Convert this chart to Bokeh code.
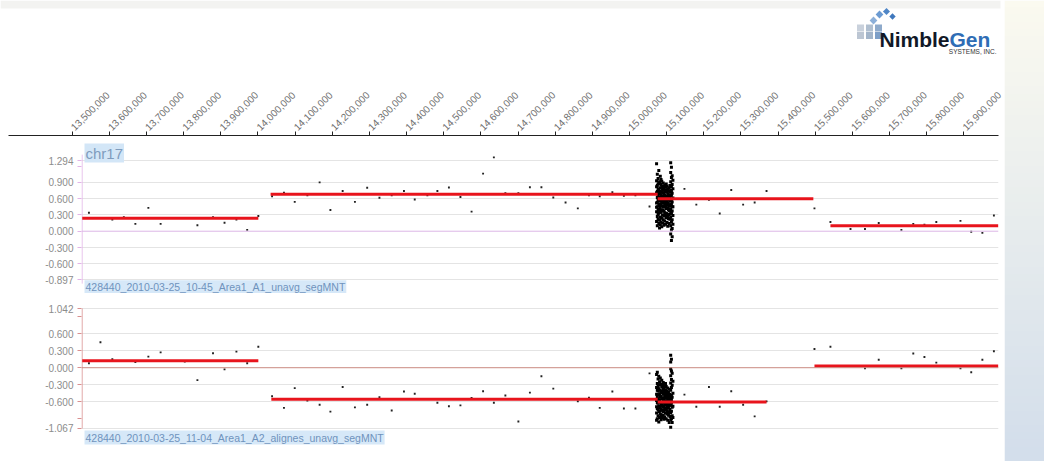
import numpy as np
from bokeh.plotting import figure
from bokeh.layouts import column, row
from bokeh.models import Range1d, FixedTicker, NumeralTickFormatter, Label, Span
from bokeh.embed import file_html
from bokeh.resources import INLINE

# ---------------- data ----------------
x_ticks = list(range(13_500_000, 16_000_001, 100_000))

probe_kb_a1 = [13545, 13608, 13639, 13670, 13705, 13738, 13837, 13879, 13910, 13942, 13971, 14001,
               14038, 14070, 14099, 14133, 14166, 14195, 14228, 14261, 14294, 14327, 14360, 14393,
               14422, 14456, 14483, 14514, 14545, 14575, 14606, 14635, 14666, 14701, 14732, 14763,
               14795, 14828, 14861, 14891, 14920, 14954, 14985, 15016, 15054, 15148, 15180, 15214,
               15243, 15274, 15306, 15337, 15369, 15498, 15541, 15595, 15634, 15671, 15732, 15764,
               15794, 15826, 15891, 15920, 15950, 15981]
ratio_a1 = [0.34, 0.215, 0.26, 0.135, 0.43, 0.135, 0.11, 0.26, 0.155, 0.215, 0.025, 0.28,
            0.645, 0.71, 0.54, 0.66, 0.90, 0.39, 0.74, 0.54, 0.80, 0.615, 0.66, 0.74,
            0.585, 0.66, 0.74, 0.805, 0.63, 0.36, 1.06, 1.36, 0.70, 0.70, 0.81, 0.81,
            0.62, 0.53, 0.42, 0.66, 0.645, 0.72, 0.65, 0.66, 0.455, 0.78, 0.49, 0.58,
            0.325, 0.76, 0.49, 0.53, 0.74, 0.42, 0.17, 0.04, 0.04, 0.15, 0.025, 0.135,
            0.12, 0.17, 0.19, -0.01, -0.03, 0.29]

probe_kb_a2 = [13545, 13576, 13608, 13639, 13670, 13705, 13738, 13803, 13837, 13879, 13910, 13942,
               13971, 14001, 14038, 14070, 14099, 14133, 14166, 14195, 14228, 14261, 14294, 14327,
               14360, 14393, 14422, 14483, 14514, 14545, 14575, 14606, 14635, 14666, 14701, 14732,
               14763, 14795, 14861, 14891, 14920, 14954, 14985, 15016, 15054, 15148, 15180, 15214,
               15243, 15274, 15306, 15337, 15369, 15498, 15541, 15634, 15671, 15732, 15764, 15794,
               15826, 15891, 15920, 15950, 15981]
ratio_a2 = [0.08, 0.45, 0.15, 0.12, 0.10, 0.195, 0.27, 0.11, -0.22, 0.255, -0.03, 0.285,
            0.08, 0.37, -0.505, -0.71, -0.36, -0.58, -0.655, -0.775, -0.34, -0.70, -0.655, -0.52,
            -0.755, -0.42, -0.46, -0.62, -0.68, -0.665, -0.535, -0.415, -0.62, -0.49, -0.95, -0.44,
            -0.15, -0.37, -0.595, -0.53, -0.71, -0.42, -0.72, -0.72, -0.10, -0.475, -0.69, -0.34,
            -0.69, -0.415, -0.655, -0.86, -0.595, 0.33, 0.37, -0.01, 0.14, -0.01, 0.25, 0.19,
            0.09, -0.01, -0.08, 0.14, 0.29]

# dense probe cluster (positions in kb, several probes per position)
cluster_kb = [15073, 15075, 15077, 15079, 15081, 15083, 15085, 15087, 15089, 15091, 15093, 15095,
              15097, 15099, 15101, 15103, 15105, 15107, 15109, 15111, 15113, 15115, 15117]
cluster_a1 = [
    [1.24, 0.93, 0.71, 0.52, 0.36, 0.18, 0.82, 0.44],
    [1.05, 0.84, 0.62, 0.45, 0.27, 0.10, 0.53, 0.73],
    [0.97, 0.77, 0.58, 0.40, 0.22, 0.66, 0.31, 0.87],
    [1.12, 0.88, 0.69, 0.49, 0.33, 0.14, 0.57, 0.78],
    [0.91, 0.74, 0.55, 0.38, 0.20, 0.63, 0.06, 0.47],
    [1.01, 0.80, 0.61, 0.43, 0.26, 0.12, 0.70, 0.35],
    [0.86, 0.67, 0.50, 0.35, 0.17, 0.58, 0.95, 0.25],
    [0.92, 0.72, 0.54, 0.39, 0.24, 0.08, 0.64, 0.81],
    [0.83, 0.65, 0.47, 0.30, 0.15, 0.56, 0.76, 0.38],
    [0.89, 0.71, 0.53, 0.37, 0.21, 0.60, 0.44, 0.79],
    [0.79, 0.62, 0.46, 0.28, 0.11, 0.68, 0.53, 0.37],
    [0.85, 0.66, 0.49, 0.34, 0.19, 0.57, 0.75],
    [0.81, 0.63, 0.45, 0.29, 0.13, 0.72, 0.54],
    [0.76, 0.59, 0.42, 0.25, 0.51, 0.87, 0.33],
    [0.83, 0.64, 0.48, 0.32, 0.16, 0.55, 0.73],
    [0.78, 0.60, 0.43, 0.27, 0.69, 0.09, 0.51],
    [0.74, 0.57, 0.40, 0.23, 0.62, 0.50, 0.31],
    [0.80, 0.61, 0.46, 0.31, 0.14, 0.67, 0.38],
    [0.72, 0.55, 0.38, 0.22, 0.63, 0.84, 0.47],
    [1.26, 1.08, 0.91, 0.75, 0.58, 0.41, 0.26, 0.10, -0.05, 0.66, 0.33],
    [1.18, 0.99, 0.82, 0.66, 0.49, 0.33, 0.17, 0.02, -0.17, 0.57, 0.74],
    [1.02, 0.86, 0.70, 0.54, 0.37, 0.21, 0.05, -0.10, 0.45],
    [0.94, 0.78, 0.61, 0.45, 0.29, 0.13],
]
cluster_a2 = [
    [-0.12, -0.35, -0.58, -0.80, -0.47, -0.93, -0.69],
    [-0.08, -0.28, -0.51, -0.72, -0.90, -0.62, -0.40],
    [-0.20, -0.41, -0.63, -0.85, -0.33, -0.55, -0.74],
    [-0.15, -0.37, -0.59, -0.78, -0.96, -0.48, -0.68],
    [-0.25, -0.46, -0.68, -0.88, -0.57, -0.30, -0.77],
    [-0.18, -0.40, -0.61, -0.82, -0.52, -0.71, -0.30],
    [-0.29, -0.50, -0.73, -0.92, -0.44, -0.64, -0.83],
    [-0.22, -0.43, -0.66, -0.86, -0.55, -0.34, -0.75],
    [-0.31, -0.53, -0.75, -0.61, -0.42, -0.89, -0.67],
    [-0.26, -0.47, -0.69, -0.84, -0.58, -0.38, -0.78],
    [-0.35, -0.56, -0.77, -0.63, -0.45, -0.91, -0.70],
    [-0.30, -0.51, -0.72, -0.87, -0.60, -0.42],
    [-0.39, -0.59, -0.80, -0.66, -0.48, -0.28, -0.73],
    [-0.33, -0.54, -0.74, -0.90, -0.62, -0.44],
    [-0.41, -0.61, -0.82, -0.69, -0.50, -0.76],
    [-0.36, -0.57, -0.78, -0.93, -0.65, -0.46],
    [-0.44, -0.64, -0.84, -0.71, -0.53, -0.79],
    [-0.38, -0.59, -0.80, -0.97, -0.67, -0.49],
    [-0.47, -0.66, -0.86, -0.74, -0.56],
    [0.22, 0.10, -0.02, -0.14, -0.27, -0.40, -0.53, -0.66, -0.79, -0.92, -1.05, -0.60],
    [0.15, -0.06, -0.21, -0.35, -0.49, -0.63, -0.77, -0.90, -0.56],
    [-0.10, -0.31, -0.52, -0.70, -0.85, -0.97],
    [-0.24, -0.45, -0.68, -0.88],
]

# segmentation (segMNT) results
seg_a1_start_kb = [13527, 14034, 15076, 15541]
seg_a1_end_kb = [14001, 15076, 15495, 15993]
seg_a1_val = [0.24, 0.68, 0.597, 0.10]
seg_a2_start_kb = [13527, 14036, 15076, 15498]
seg_a2_end_kb = [14001, 15076, 15369, 15993]
seg_a2_val = [0.125, -0.558, -0.606, 0.03]

yticks_a1 = [-0.897, -0.6, -0.3, 0.0, 0.3, 0.6, 0.9, 1.2, 1.294]
ylabeled_a1 = [-0.897, -0.6, -0.3, 0.0, 0.3, 0.6, 0.9, 1.294]
yticks_a2 = [-1.067, -0.9, -0.6, -0.3, 0.0, 0.3, 0.6, 0.9, 1.042]
ylabeled_a2 = [-1.067, -0.6, -0.3, 0.0, 0.3, 0.6, 1.042]

chrom_name = "chr17"
sample_a1 = "428440_2010-03-25_10-45_Area1_A1_unavg_segMNT"
sample_a2 = "428440_2010-03-25_11-04_Area1_A2_alignes_unavg_segMNT"

# ---------------- styling / layout ----------------
FONT = "Liberation Sans"
W = 1004
RB = 6
X_PANEL = (13_525_000, 15_993_400)
X_AXIS = (13_328_530, 15_993_400)
LABEL_X = 13_533_100


def expand_cluster(kbs, vals):
    xs, ys = [], []
    for kb, v in zip(kbs, vals):
        xs += [kb * 1000] * len(v)
        ys += v
    return xs, ys


def bare(p):
    p.xgrid.visible = False
    p.ygrid.visible = False
    return p


# logo figure (pixel coordinates)
logo = bare(figure(width=W, height=70, x_range=Range1d(0, W), y_range=Range1d(70, 0),
                   output_backend="svg", toolbar_location=None, x_axis_location=None,
                   y_axis_location=None, min_border=0, outline_line_color=None,
                   frame_align=False))
logo.quad(left=[0], right=[1000], top=[0], bottom=[8], fill_color="#f3f3f1", line_color=None)
sq_x = [860, 869, 878, 860, 869, 878, 873, 879, 886, 892]
sq_y = [27.5, 27.5, 27.5, 35, 35, 35, 20, 14, 11, 16]
sq_s = [7, 7, 7, 7, 7, 7, 5.5, 5.5, 5, 4.5]
sq_a = [0, 0, 0, 0, 0, 0, 0.785, 0.785, 0.785, 0.785]
sq_c = ["#c9d1dc", "#b0bfd0", "#8eaacb", "#bcc6d3", "#a3b5ca", "#7d9fc8",
        "#8db0d9", "#6c9bd2", "#4f86c6", "#3f78bd"]
logo.rect(x=sq_x, y=sq_y, width=sq_s, height=sq_s, angle=sq_a, fill_color=sq_c, line_color=None)
logo.add_layout(Label(x=949, y=39, text="Nimble", text_font=FONT, text_font_style="bold",
                      text_font_size="21px", text_color="#111827", text_align="right",
                      text_baseline="alphabetic"))
logo.add_layout(Label(x=949, y=39, text="Gen", text_font=FONT, text_font_style="bold",
                      text_font_size="21px", text_color="#2f6db5", text_align="left",
                      text_baseline="alphabetic"))
logo.add_layout(Label(x=996, y=51, text="SYSTEMS, INC.", text_font=FONT,
                      text_font_size="6.5px", text_color="#333333", text_align="right",
                      text_baseline="alphabetic"))

# top genomic axis
axf = bare(figure(width=W, height=67, x_range=Range1d(*X_AXIS), y_range=Range1d(0, 1),
                  output_backend="svg", toolbar_location=None, x_axis_location="above",
                  y_axis_location=None, min_border_top=65, min_border_bottom=0,
                  min_border_left=8, min_border_right=RB, outline_line_color=None,
                  frame_align=False))
xa = axf.xaxis[0]
xa.ticker = FixedTicker(ticks=x_ticks)
xa.formatter = NumeralTickFormatter(format="0,0")
xa.major_label_orientation = np.pi / 4
xa.major_label_text_font = FONT
xa.major_label_text_font_size = "10px"
xa.major_label_text_color = "#6f6f6f"
xa.axis_line_color = "#222222"
xa.major_tick_line_color = "#222222"
xa.major_tick_out = 4
xa.major_tick_in = 0
xa.minor_tick_line_color = None
xa.major_label_standoff = 3


def make_panel(height, yrange, axis_span, ticks, labeled, axis_color, zero_color,
               px, py, cx, cy, s0, s1, sv, name_label, chrom_y, sample, sample_y):
    p = figure(width=W, height=height, x_range=Range1d(*X_PANEL), y_range=Range1d(*yrange),
               output_backend="svg", toolbar_location=None, x_axis_location=None,
               min_border_top=0, min_border_bottom=0, min_border_left=81,
               min_border_right=RB, outline_line_color=None, frame_align=False)
    p.xgrid.visible = False
    p.ygrid.ticker = FixedTicker(ticks=[t for t in labeled if t != 0])
    p.ygrid.grid_line_color = "#e4e4e4"
    ya = p.yaxis[0]
    ya.ticker = FixedTicker(ticks=ticks)
    ya.formatter = NumeralTickFormatter(format="0.000")
    ya.major_label_overrides = {t: "" for t in ticks if t not in labeled}
    ya.major_label_text_font = FONT
    ya.major_label_text_font_size = "10px"
    ya.major_label_text_color = "#8c8c8c"
    ya.axis_line_color = None
    ya.major_tick_line_color = axis_color
    ya.major_tick_out = 4
    ya.major_tick_in = 0
    ya.minor_tick_line_color = None
    ya.major_label_standoff = 4
    p.add_layout(Span(location=0, dimension="width", line_color=zero_color, line_width=1))
    # vertical axis line limited to the data extent
    p.segment(x0=[X_PANEL[0] + 1500], y0=[axis_span[0]], x1=[X_PANEL[0] + 1500],
              y1=[axis_span[1]], line_color=axis_color, line_width=1)
    p.scatter(x=[k * 1000 for k in px], y=py, marker="square", size=1.9,
              fill_color="#222222", line_color=None)
    p.scatter(x=cx, y=cy, marker="square", size=3.0, fill_color="#000000", line_color=None)
    p.segment(x0=[k * 1000 for k in s0], y0=sv, x1=[k * 1000 for k in s1], y1=sv,
              line_color="#e8141c", line_width=3)
    if name_label:
        p.add_layout(Label(x=LABEL_X, y=chrom_y, text=name_label, text_font=FONT,
                           text_font_size="15px", text_color="#7f9cbd",
                           background_fill_color="#d3e6f7", text_baseline="bottom",
                           padding=1))
    p.add_layout(Label(x=LABEL_X, y=sample_y, text=sample, text_font=FONT,
                       text_font_size="10.5px", text_color="#6f93bd",
                       background_fill_color="#d6e8f8", text_baseline="top", padding=1))
    return p


c1x, c1y = expand_cluster(cluster_kb, cluster_a1)
c2x, c2y = expand_cluster(cluster_kb, cluster_a2)

p1 = make_panel(156, (-1.147, 1.7256), (-0.965, 1.41), yticks_a1, ylabeled_a1,
                "#e2b4e8", "#dcb6e6", probe_kb_a1, ratio_a1, c1x, c1y,
                seg_a1_start_kb, seg_a1_end_kb, seg_a1_val,
                chrom_name, 1.265, sample_a1, -0.905)
p2 = make_panel(168, (-1.657, 1.311), (-1.072, 1.048), yticks_a2, ylabeled_a2,
                "#d99090", "#c98a80", probe_kb_a2, ratio_a2, c2x, c2y,
                seg_a2_start_kb, seg_a2_end_kb, seg_a2_val,
                None, 0, sample_a2, -1.11)

# right decorative panel
rp = bare(figure(width=1044 - W, height=461, x_range=Range1d(0, 1), y_range=Range1d(0, 1),
                 output_backend="svg", toolbar_location=None, x_axis_location=None,
                 y_axis_location=None, min_border=0, outline_line_color=None,
                 frame_align=False))
top_c = np.array([251, 250, 240])
bot_c = np.array([211, 222, 235])
n = 64
img = np.empty((n, 1), dtype=np.uint32)
view = img.view(dtype=np.uint8).reshape((n, 1, 4))
for i in range(n):
    t = i / (n - 1)  # 0 bottom -> 1 top
    c = bot_c * (1 - t) + top_c * t
    view[i, 0, 0:3] = c.astype(np.uint8)
    view[i, 0, 3] = 255
rp.image_rgba(image=[img], x=0, y=0, dw=1, dh=1)

layout = row(column(logo, axf, p1, p2), rp)
open("out.html", "w").write(file_html(layout, INLINE))
